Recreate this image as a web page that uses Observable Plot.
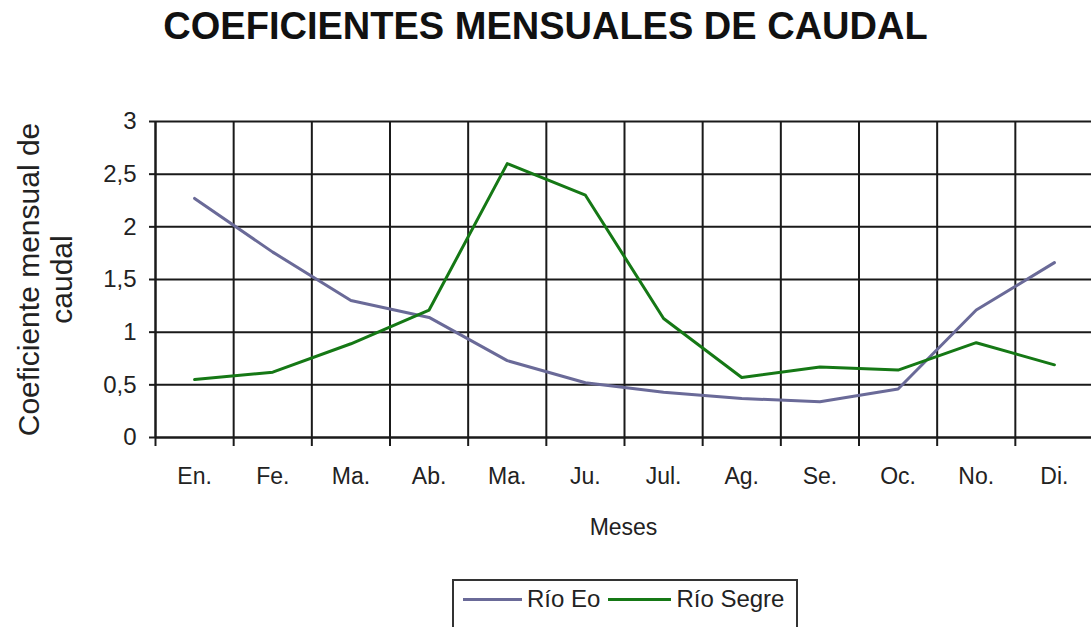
<!DOCTYPE html>
<html>
<head>
<meta charset="utf-8">
<script src="https://cdn.jsdelivr.net/npm/d3@7"></script>
<script src="https://cdn.jsdelivr.net/npm/@observablehq/plot@0.6"></script>
<style>
  html, body { margin: 0; padding: 0; background: #fff; overflow: hidden; }
  #wrap { position: relative; width: 1091px; height: 627px; font-family: "Liberation Sans", Arial, sans-serif; }
  #title { height: 80px; box-sizing: border-box; padding-top: 7px; text-align: center; font-size: 38px; line-height: 38px; font-weight: bold; color: #111; }
  #legend { position: absolute; left: 452px; top: 579px; width: 346px; height: 70px; box-sizing: border-box; border: 2px solid #333; display: flex; align-items: flex-start; padding: 2px 0 0 9px; font-size: 24px; color: #222; }
  .item { display: flex; align-items: center; }
  .sw { display: inline-block; height: 3px; margin-right: 5px; }
  .lab { line-height: 32px; }
</style>
</head>
<body>
<div id="wrap">
  <div id="title">COEFICIENTES MENSUALES DE CAUDAL</div>
  <div id="chart"></div>
  <div id="legend"></div>
</div>
<script>
const months = ["En.", "Fe.", "Ma.", "Ab.", "Ma.", "Ju.", "Jul.", "Ag.", "Se.", "Oc.", "No.", "Di."];
const rioEo    = [2.27, 1.76, 1.30, 1.14, 0.73, 0.52, 0.43, 0.37, 0.34, 0.46, 1.21, 1.66];
const rioSegre = [0.55, 0.62, 0.89, 1.21, 2.60, 2.30, 1.13, 0.57, 0.67, 0.64, 0.90, 0.69];
const seriesNames = ["Río Eo", "Río Segre"];
const seriesColors = ["#6a6a98", "#157815"];
const yTicks = [0, 0.5, 1, 1.5, 2, 2.5, 3];
const yTickLabels = ["0", "0,5", "1", "1,5", "2", "2,5", "3"];
const yTitle = "Coeficiente mensual de\ncaudal";
const xTitle = "Meses";

const rows = [];
months.forEach((m, i) => {
  rows.push({i, m, v: rioEo[i], s: seriesNames[0]});
  rows.push({i, m, v: rioSegre[i], s: seriesNames[1]});
});
const bounds = d3.range(months.length + 1);
const centers = months.map((m, i) => i + 0.5);

const chart = Plot.plot({
  width: 1091,
  height: 490,
  marginTop: 41,
  marginBottom: 133,
  marginLeft: 155,
  marginRight: 0,
  style: {fontFamily: "Liberation Sans, Arial, sans-serif", fontSize: "23px", color: "#222", background: "#fff"},
  x: {domain: [0, months.length], range: [155, 1093]},
  y: {domain: [0, 3]},
  color: {domain: seriesNames, range: seriesColors},
  marks: [
    Plot.gridY(yTicks, {stroke: "#1a1a1a", strokeOpacity: 1, strokeWidth: 2}),
    Plot.gridX(bounds, {stroke: "#1a1a1a", strokeOpacity: 1, strokeWidth: 2}),
    Plot.axisY({ticks: yTicks, tickFormat: d => yTickLabels[yTicks.indexOf(d)], tickSize: 6, tickPadding: 13, fontSize: 24, stroke: "#1a1a1a", strokeWidth: 2, label: null}),
    Plot.axisX({ticks: bounds, tickFormat: () => "", tickSize: 9, stroke: "#1a1a1a", strokeWidth: 2, label: null}),
    Plot.axisX({ticks: centers, tickFormat: d => months[Math.floor(d)], tickSize: 0, tickPadding: 30, fontSize: 23, label: null}),
    Plot.ruleX([0], {stroke: "#1a1a1a", strokeWidth: 2}),
    Plot.ruleY([0], {stroke: "#1a1a1a", strokeWidth: 2}),
    Plot.line(rows, {x: d => d.i + 0.5, y: "v", z: "s", stroke: "s", strokeWidth: 3}),
    Plot.text([yTitle], {frameAnchor: "left", rotate: -90, dx: -111, fontSize: 30, lineHeight: 1.1, lineAnchor: "middle", textAnchor: "middle", fill: "#222"}),
    Plot.text([xTitle], {frameAnchor: "bottom", dy: 90, fontSize: 23, lineAnchor: "middle", fill: "#222"})
  ]
});
document.getElementById("chart").appendChild(chart);

const legend = document.getElementById("legend");
const swWidths = [59, 63];
seriesNames.forEach((name, k) => {
  const item = document.createElement("div");
  item.className = "item";
  item.style.marginRight = k === 0 ? "8px" : "0";
  const sw = document.createElement("span");
  sw.className = "sw";
  sw.style.width = swWidths[k] + "px";
  sw.style.background = seriesColors[k];
  const lab = document.createElement("span");
  lab.className = "lab";
  lab.textContent = name;
  item.appendChild(sw);
  item.appendChild(lab);
  legend.appendChild(item);
});
</script>
</body>
</html>
